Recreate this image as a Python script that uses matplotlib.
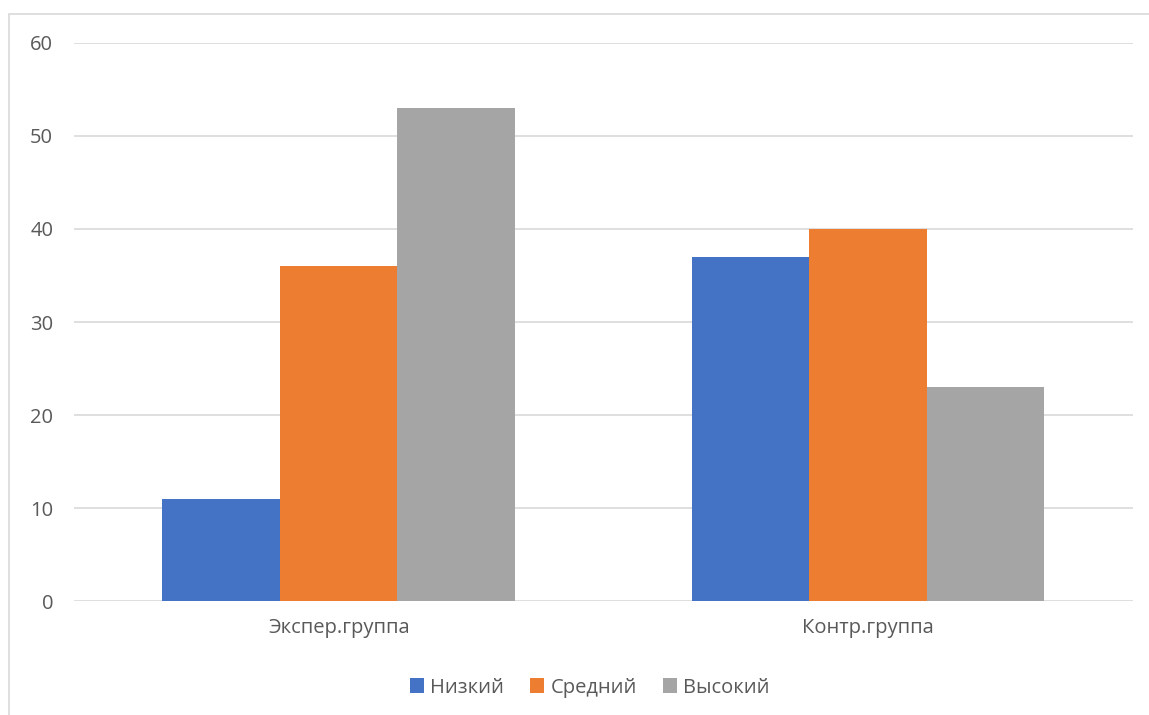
import numpy as np
import matplotlib.pyplot as plt
from matplotlib.patches import Rectangle

plt.rcParams['font.family'] = ['Open Sans', 'DejaVu Sans']

groups = ['Экспер.группа', 'Контр.группа']
series = ['Низкий', 'Средний', 'Высокий']
low = [11, 37]
mid = [36, 40]
high = [53, 23]
colors = ['#4472C4', '#ED7D31', '#A5A5A5']

fig = plt.figure(figsize=(11.49, 7.15), dpi=100)
ax = fig.add_axes([0.0644, 0.1594, 0.9216, 0.7805])

x = np.arange(len(groups))
w = 0.222
for i, (vals, name) in enumerate(zip([low, mid, high], series)):
    ax.bar(x + (i - 1) * w, vals, width=w, color=colors[i], label=name, zorder=3)

ax.set_xlim(-0.5, 1.5)
ax.set_ylim(0, 60)
ax.set_yticks(range(0, 61, 10))
ax.set_xticks(x)
ax.set_xticklabels(groups)
ax.grid(axis='y', color='#D9D9D9', linewidth=1.2, zorder=0)
for s in ax.spines.values():
    s.set_visible(False)
ax.tick_params(length=0, labelsize=14.5, labelcolor='#595959')
ax.tick_params(axis='y', pad=15)
ax.tick_params(axis='x', pad=12)

ax.legend(loc='center', bbox_to_anchor=(0.487, -0.155), ncol=3, frameon=False,
          fontsize=14.5, labelcolor='#595959', handlelength=0.7, handleheight=0.7,
          handletextpad=0.3, columnspacing=1.3)

fig.patches.append(Rectangle((9 / 1149, -0.1), 1.2, 1 - 14 / 715 + 0.1,
                             transform=fig.transFigure, fill=False,
                             edgecolor='#D9D9D9', linewidth=1.2))

fig.savefig('out.png', dpi=100)
